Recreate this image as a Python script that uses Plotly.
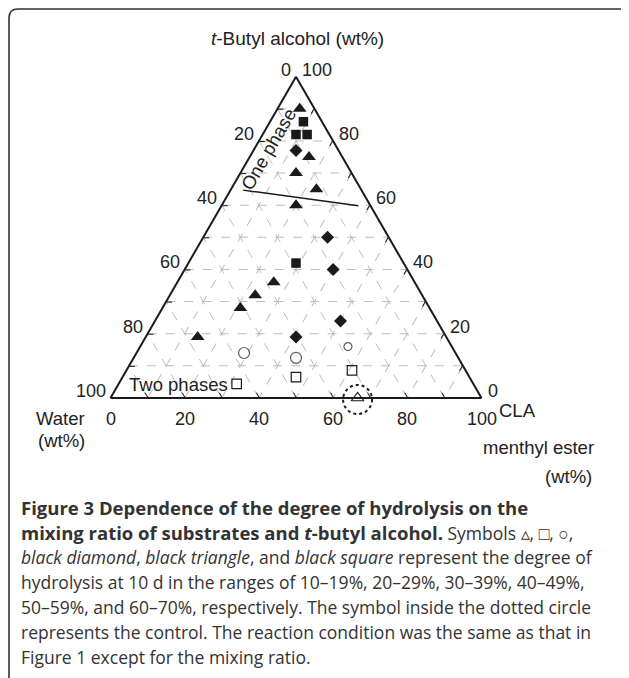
import plotly.graph_objects as go

# page is 629x678; the html body has an 8 px margin, so the figure is offset by 8 px
PAGE_W, PAGE_H = 629, 678
OFF = 8
W, H = PAGE_W - OFF, PAGE_H - OFF

# ---- data: t-butyl alcohol (a), water (b), CLA menthyl ester (c), wt% ----
# black triangles (50-59 %)
tri_a = [90, 75, 70, 65, 60, 36, 32, 28, 19]
tri_b = [4, 9, 15, 12, 20, 38, 45, 51, 67]
tri_c = [6, 16, 15, 23, 20, 26, 23, 21, 14]
# black squares (60-70 %)
sq_a = [86, 82, 82, 42]
sq_b = [5, 9, 6, 29]
sq_c = [9, 9, 12, 29]
# black diamonds (40-49 %)
dia_a = [77, 50, 40, 24, 19]
dia_b = [11.5, 16.5, 20, 26, 40.5]
dia_c = [11.5, 33.5, 40, 50, 40.5]
# open circles (30-39 %)
cir_a = [14, 16, 12.5]
cir_b = [57, 28, 43.75]
cir_c = [29, 56, 43.75]
# open squares (20-29 %)
osq_a = [4.4, 8.6, 6.5]
osq_b = [63.8, 30.6, 46.75]
osq_c = [31.8, 60.8, 46.75]
# open triangle (10-19 %), the control
ctl_a = [0]
ctl_b = [33.4]
ctl_c = [66.6]
# phase boundary
bnd_a = [64.7, 59.8]
bnd_b = [31.9, 3.3]
bnd_c = [3.4, 36.9]

tick_vals = list(range(0, 101, 10))
label_vals = [0, 20, 40, 60, 80, 100]

# triangle placement (page pixels)
BLX, BRX, BY = 110.5, 481.5, 398.0
SIDE = BRX - BLX
HT = SIDE * 3 ** 0.5 / 2
TOPY = BY - HT


def fx(x):
    return (x - OFF) / W


def fy(y):
    return 1 - (y - OFF) / H


def tern_px(a, c):
    return BLX + (c + a / 2) / 100 * SIDE, BY - a / 100 * HT


FONT = "Liberation Sans, Arial, sans-serif"
CAP = "Open Sans, Noto Sans, sans-serif"
INK = "#1a1a1a"

fig = go.Figure()


def add(a, b, c, symbol, size, filled, lw=1.2):
    fig.add_trace(go.Scatterternary(
        a=a, b=b, c=c, mode="markers",
        marker=dict(symbol=symbol, size=size, color=INK,
                    line=dict(color=INK, width=0 if filled else lw)),
        showlegend=False, hoverinfo="skip", cliponaxis=False))


fig.add_trace(go.Scatterternary(
    a=bnd_a, b=bnd_b, c=bnd_c, mode="lines",
    line=dict(color=INK, width=1.5),
    showlegend=False, hoverinfo="skip"))

add(tri_a, tri_b, tri_c, "triangle-up", 12, True)
add(sq_a, sq_b, sq_c, "square", 9.5, True)
add(dia_a, dia_b, dia_c, "diamond", 10, True)
add(cir_a, cir_b, cir_c, "circle-open", [11, 8, 11], False)
add(osq_a, osq_b, osq_c, "square-open", 9.5, False)
add(ctl_a, ctl_b, ctl_c, "triangle-up-open", 11, False)

axis = dict(
    tickmode="array", tickvals=tick_vals, showticklabels=False,
    ticks="inside", ticklen=5, tickwidth=1, tickcolor=INK,
    showline=True, linecolor=INK, linewidth=2,
    showgrid=True, gridcolor="#bdbdbd", gridwidth=1, griddash="dash",
    title=dict(text=""), min=0,
)

fig.update_layout(
    width=W, height=H,
    margin=dict(l=0, r=0, t=0, b=0, pad=0),
    paper_bgcolor="white",
    ternary=dict(
        sum=100, bgcolor="white",
        domain=dict(x=[fx(BLX), fx(BRX)], y=[fy(BY), fy(TOPY)]),
        aaxis=axis, baxis=axis, caxis=axis,
    ),
    showlegend=False,
)

# dotted circle around the control point
cx, cy = tern_px(ctl_a[0], ctl_c[0])
R = 14.5
fig.add_shape(type="circle", xref="paper", yref="paper",
              x0=fx(cx - R), x1=fx(cx + R),
              y0=fy(cy + R + 1.5), y1=fy(cy - R + 1.5),
              line=dict(color=INK, width=2, dash="dot"))

# frame (top and left rules with a rounded corner)
fig.add_shape(type="path", xref="paper", yref="paper",
              path=(f"M {fx(9)},{fy(680)} L {fx(9)},{fy(18)} "
                    f"Q {fx(9)},{fy(9)} {fx(18)},{fy(9)} L {fx(622)},{fy(9)} "
                    f"Q {fx(626)},{fy(9)} {fx(628)},{fy(13)}"),
              line=dict(color="#333", width=1.6))


def text(x, y, s, size=18.5, family=FONT, anchor="center", angle=0, color="#222"):
    fig.add_annotation(x=fx(x), y=fy(y), xref="paper", yref="paper",
                       text=s, showarrow=False, xanchor=anchor, yanchor="middle",
                       textangle=angle, align="left",
                       font=dict(family=family, size=size, color=color))


# tick labels: water on the left side, t-butyl alcohol on the right, CLA ester at the bottom
for v in label_vals:
    x, y = tern_px(100 - v, 0)          # water = v
    text(x - 3, y - 7, str(v), size=18, anchor="right")
    x, y = tern_px(v, 100 - v)          # t-butyl alcohol = v
    text(x + 4, y - 7, str(v), size=18, anchor="left")
    x, y = tern_px(0, v)                # CLA menthyl ester = v
    text(x, y + 21, str(v), size=18)

text(297, 38, "<i>t</i>-Butyl alcohol (wt%)", size=19)
text(60, 418, "Water")
text(61, 441, "(wt%)")
text(517, 410, "CLA")
text(538, 447, "menthyl ester")
text(568, 477, "(wt%)")
text(268, 149, "One phase", angle=-60)
text(178, 384, "Two phases")

B = '<span style="font-size:18.5px"><b>{}</b></span>'
caption = [
    B.format("Figure 3 Dependence of the degree of hydrolysis on the"),
    B.format("mixing ratio of substrates and <i>t</i>-butyl alcohol.") + " Symbols \u25b5, \u25a1, \u25cb,",
    "<i>black diamond</i>, <i>black triangle</i>, and <i>black square</i> represent the degree of",
    "hydrolysis at 10 d in the ranges of 10\u201319%, 20\u201329%, 30\u201339%, 40\u201349%,",
    "50\u201359%, and 60\u201370%, respectively. The symbol inside the dotted circle",
    "represents the control. The reaction condition was the same as that in",
    "Figure 1 except for the mixing ratio.",
]
for i, line in enumerate(caption):
    text(19, 507 + 25 * i, line, size=17.5, family=CAP, anchor="left", color="#333")

fig.write_html("out.html")
